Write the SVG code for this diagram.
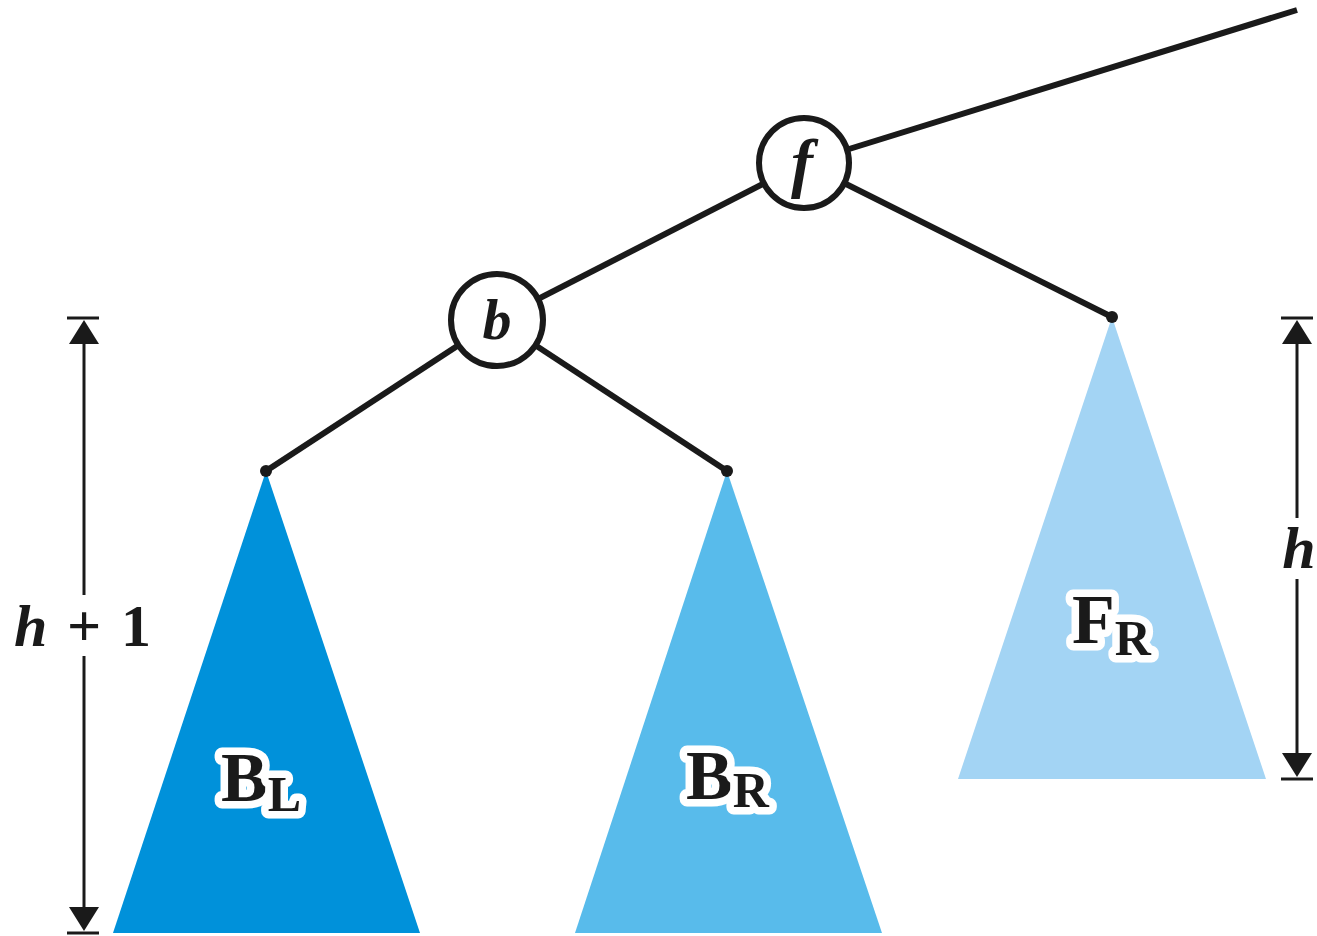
<svg xmlns="http://www.w3.org/2000/svg" width="1317" height="936" viewBox="0 0 1317 936">
<style>
.edge{stroke:#1a1a1a;stroke-width:6;fill:none}
.node{fill:#fff;stroke:#1a1a1a;stroke-width:6}
.dot{fill:#1a1a1a}
.dim{stroke:#1a1a1a;stroke-width:3;fill:none}
.head{fill:#1a1a1a}
.lbl{fill:#1a1a1a;stroke:#fff;stroke-width:15;stroke-linejoin:round;paint-order:stroke}
.t{fill:#1a1a1a}
</style>
<g id="subtrees">
<polygon id="BL-tri" points="266,471 113,933 420,933" fill="#0091DA"/>
<polygon id="BR-tri" points="727,471 575,933 882,933" fill="#58BBEB"/>
<polygon id="FR-tri" points="1112,317 958,779 1266,779" fill="#A3D4F4"/>
</g>
<g id="connectors">
<line class="edge" x1="1297" y1="10" x2="804" y2="163"/>
<line class="edge" x1="804" y1="163" x2="497" y2="320"/>
<line class="edge" x1="804" y1="163" x2="1112" y2="317"/>
<line class="edge" x1="497" y1="320" x2="266" y2="471"/>
<line class="edge" x1="497" y1="320" x2="727" y2="471"/>
</g>
<g id="dots">
<circle class="dot" cx="266" cy="471" r="6"/>
<circle class="dot" cx="727" cy="471" r="6"/>
<circle class="dot" cx="1112" cy="317" r="6"/>
</g>
<g id="node-f">
<circle class="node" cx="804" cy="163" r="45"/>
<text class="t" x="802" y="185" font-family="Liberation Serif, Times New Roman, serif" font-style="italic" font-weight="bold" font-size="66" text-anchor="middle">f</text>
</g>
<g id="node-b">
<circle class="node" cx="497" cy="320" r="46"/>
<text class="t" x="497" y="339" font-family="Liberation Serif, Times New Roman, serif" font-style="italic" font-weight="bold" font-size="58" text-anchor="middle">b</text>
</g>
<g id="label-BL">
<text class="lbl" x="221" y="801" font-family="Liberation Serif, Times New Roman, serif" font-weight="bold" font-size="70">B<tspan font-size="50" dy="10">L</tspan></text>
</g>
<g id="label-BR">
<text class="lbl" x="686" y="799" font-family="Liberation Serif, Times New Roman, serif" font-weight="bold" font-size="70">B<tspan font-size="50" dy="8">R</tspan></text>
</g>
<g id="label-FR">
<text class="lbl" x="1072" y="643" font-family="Liberation Serif, Times New Roman, serif" font-weight="bold" font-size="70">F<tspan font-size="50" dy="12">R</tspan></text>
</g>
<g id="dim-left">
<line class="dim" x1="67" y1="318" x2="99" y2="318"/>
<polygon class="head" points="84,320 69,344 99,344"/>
<line class="dim" x1="84" y1="340" x2="84" y2="595"/>
<line class="dim" x1="84" y1="656" x2="84" y2="910"/>
<polygon class="head" points="84,931 69,907 99,907"/>
<line class="dim" x1="67" y1="933" x2="99" y2="933"/>
<text class="t" x="14" y="646" font-family="Liberation Serif, Times New Roman, serif" font-style="italic" font-weight="bold" font-size="60">h</text>
<text class="t" x="67" y="646" font-family="Liberation Serif, Times New Roman, serif" font-weight="bold" font-size="60">+</text>
<text class="t" x="121" y="646" font-family="Liberation Serif, Times New Roman, serif" font-weight="bold" font-size="60">1</text>
</g>
<g id="dim-right">
<line class="dim" x1="1281" y1="318" x2="1313" y2="318"/>
<polygon class="head" points="1297,320 1282,344 1312,344"/>
<line class="dim" x1="1297" y1="340" x2="1297" y2="518"/>
<line class="dim" x1="1297" y1="579" x2="1297" y2="757"/>
<polygon class="head" points="1297,777 1282,753 1312,753"/>
<line class="dim" x1="1281" y1="779" x2="1313" y2="779"/>
<text class="t" x="1299" y="568" font-family="Liberation Serif, Times New Roman, serif" font-style="italic" font-weight="bold" font-size="60" text-anchor="middle">h</text>
</g>
</svg>
